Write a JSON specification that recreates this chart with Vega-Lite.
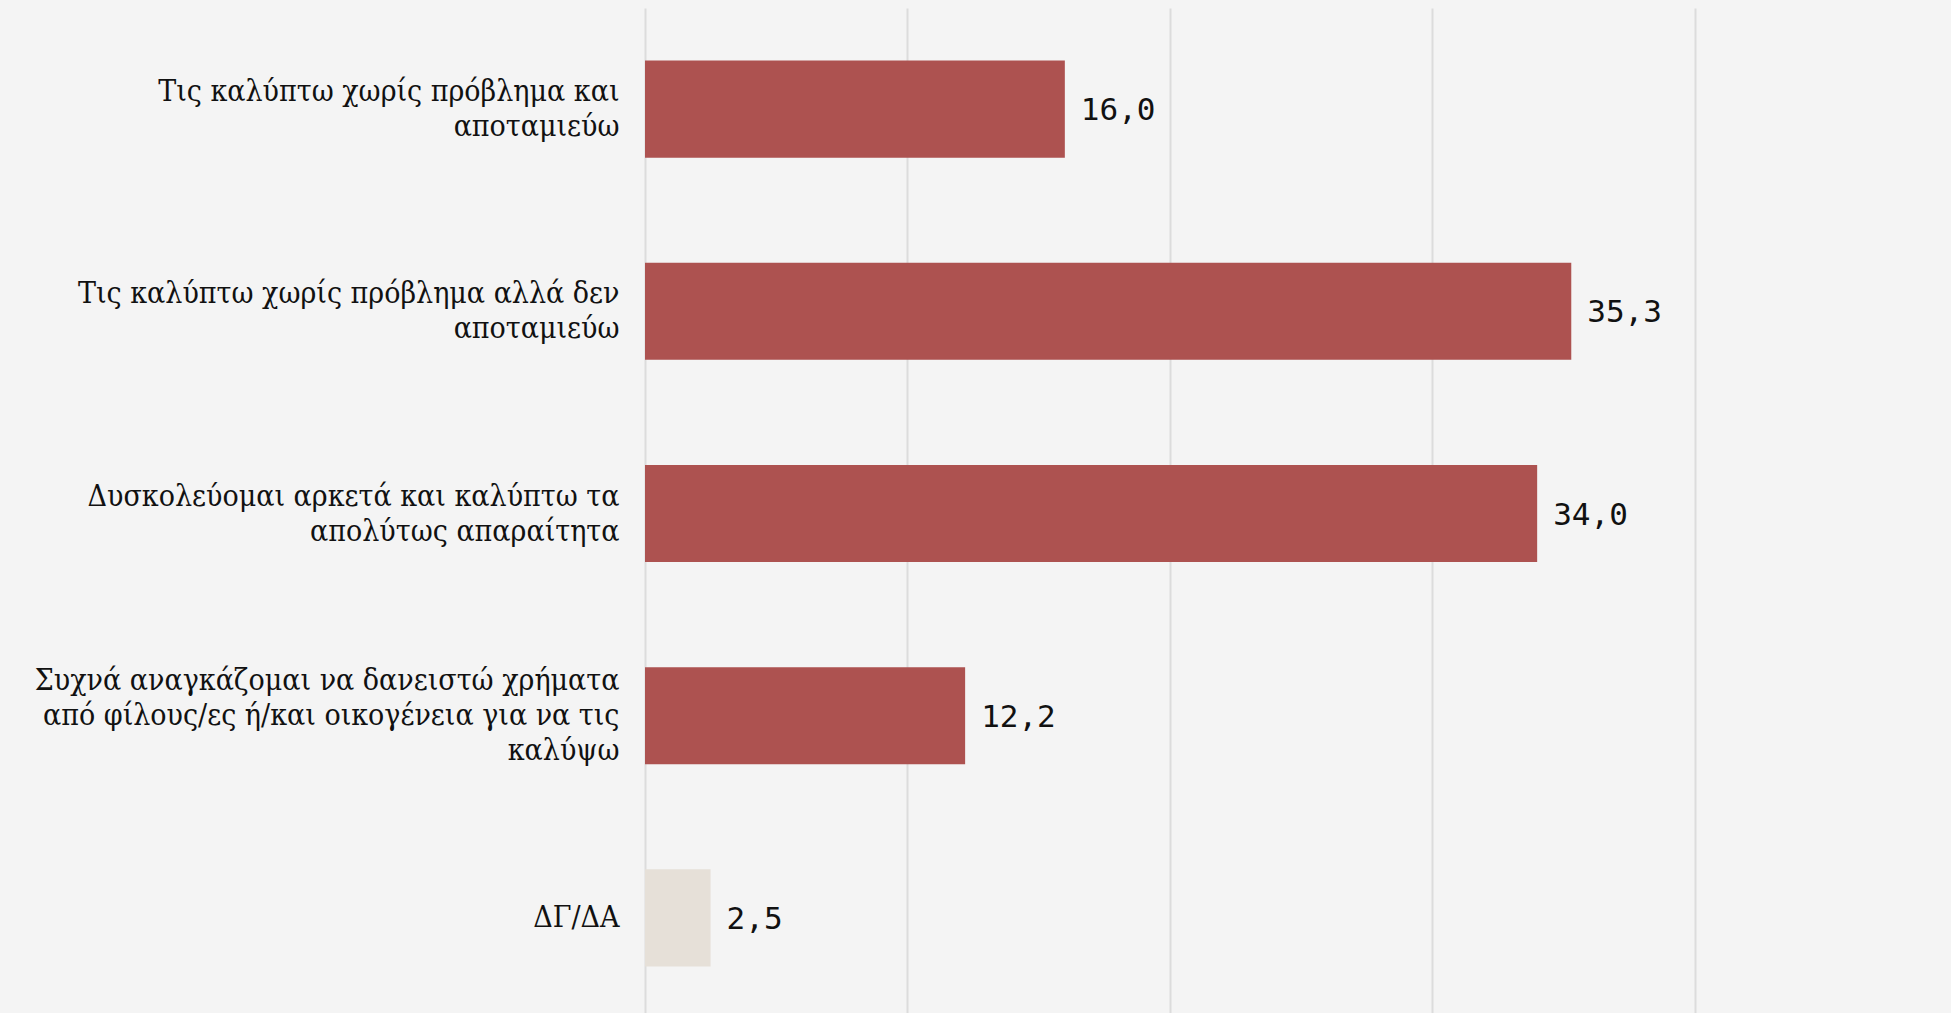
{
  "$schema": "https://vega.github.io/schema/vega-lite/v6.json",
  "width": 1312,
  "height": 1011,
  "autosize": "none",
  "padding": {"left": 645, "top": 8, "right": 0, "bottom": 0},
  "background": "#f4f4f4",
  "config": {
    "view": {"stroke": null},
    "locale": {"number": {"decimal": ",", "thousands": ".", "grouping": [3], "currency": ["", " €"]}}
  },
  "data": {
    "values": [
      {"label": "Τις καλύπτω χωρίς πρόβλημα και|αποταμιεύω", "value": 16.0, "group": "main"},
      {"label": "Τις καλύπτω χωρίς πρόβλημα αλλά δεν|αποταμιεύω", "value": 35.3, "group": "main"},
      {"label": "Δυσκολεύομαι αρκετά και καλύπτω τα|απολύτως απαραίτητα", "value": 34.0, "group": "main"},
      {"label": "Συχνά αναγκάζομαι να δανειστώ χρήματα|από φίλους/ες ή/και οικογένεια για να τις|καλύψω", "value": 12.2, "group": "main"},
      {"label": "ΔΓ/ΔΑ", "value": 2.5, "group": "na"}
    ]
  },
  "encoding": {
    "y": {
      "field": "label",
      "type": "nominal",
      "sort": null,
      "scale": {"paddingInner": 0.52, "paddingOuter": 0.26},
      "axis": {
        "title": null,
        "domain": false,
        "ticks": false,
        "labelExpr": "split(datum.label, '|')",
        "labelAlign": "right",
        "labelBaseline": "middle",
        "labelFont": "DejaVu Serif Condensed",
        "labelFontSize": 30,
        "labelLineHeight": 35,
        "labelPadding": 26,
        "labelColor": "#111111",
        "labelLimit": 0,
        "labelOffset": {
          "condition": [
            {"test": "length(split(datum.value, '|')) == 3", "value": -35},
            {"test": "length(split(datum.value, '|')) == 2", "value": -17}
          ],
          "value": 0
        }
      }
    },
    "x": {
      "field": "value",
      "type": "quantitative",
      "scale": {"domain": [0, 50], "nice": false},
      "axis": {
        "title": null,
        "domain": false,
        "ticks": false,
        "labels": false,
        "grid": true,
        "values": [0, 10, 20, 30, 40, 50],
        "gridColor": "#dcdcdc",
        "gridWidth": 2
      }
    }
  },
  "layer": [
    {
      "mark": {"type": "bar"},
      "encoding": {
        "color": {
          "field": "group",
          "type": "nominal",
          "scale": {"domain": ["main", "na"], "range": ["#ad5250", "#e6e0d8"]},
          "legend": null
        }
      }
    },
    {
      "mark": {"type": "text", "align": "left", "baseline": "middle", "dx": 16, "dy": 2, "font": "DejaVu Sans Mono", "fontSize": 31, "color": "#111111"},
      "encoding": {
        "text": {"field": "value", "type": "quantitative", "format": ".1f"}
      }
    }
  ]
}
